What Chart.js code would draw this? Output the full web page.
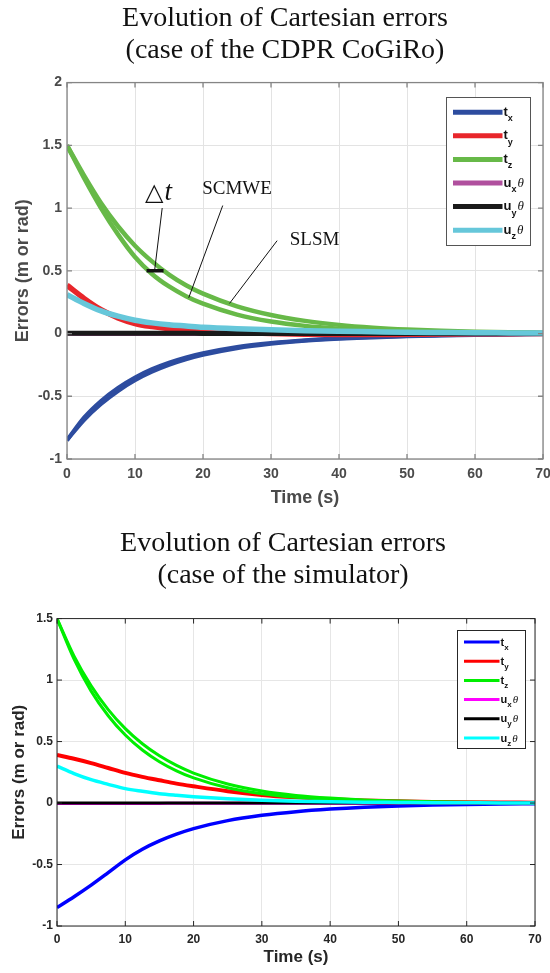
<!DOCTYPE html>
<html>
<head>
<meta charset="utf-8">
<script src="https://cdn.jsdelivr.net/npm/chart.js@4.4.1/dist/chart.umd.min.js"></script>
<style>
html, body { margin: 0; padding: 0; background: #fff; width: 550px; height: 973px; overflow: hidden; }
canvas { position: absolute; left: 0; }
#cogiro { top: 0; }
#simu { top: 515px; }
</style>
</head>
<body>
<canvas id="cogiro" width="550" height="515"></canvas>
<canvas id="simu" width="550" height="458"></canvas>
<script>
// temps commun (s)
const time = [0, 2.5, 5, 7.5, 10, 12.5, 15, 17.5, 20, 25, 30, 35, 40, 45, 50, 55, 60, 65, 70];

// --- CoGiRo (deux courbes par composante : SCMWE / SLSM)
const txScmwe = [-0.85, -0.69, -0.562, -0.458, -0.373, -0.305, -0.25, -0.206, -0.17, -0.117, -0.082, -0.058, -0.042, -0.031, -0.022, -0.016, -0.011, -0.008, -0.005];
const txSlsm  = [-0.85, -0.67, -0.537, -0.433, -0.35, -0.284, -0.232, -0.19, -0.157, -0.107, -0.075, -0.053, -0.038, -0.028, -0.02, -0.014, -0.01, -0.007, -0.004];
const tyReal  = [0.385, 0.28, 0.19, 0.125, 0.08, 0.055, 0.038, 0.027, 0.019, 0.008, 0.0, -0.006, -0.008, -0.008, -0.006, -0.004, -0.002, -0.001, 0];
const tzScmwe = [1.5, 1.24, 1.0, 0.79, 0.61, 0.475, 0.375, 0.298, 0.238, 0.151, 0.096, 0.061, 0.039, 0.025, 0.016, 0.01, 0.007, 0.005, 0.003];
const tzSlsm  = [1.5, 1.26, 1.04, 0.855, 0.70, 0.575, 0.47, 0.385, 0.318, 0.217, 0.148, 0.101, 0.069, 0.047, 0.032, 0.022, 0.015, 0.01, 0.007];
const uxReal  = [0, -0.003, -0.004, -0.004, -0.004, -0.004, -0.003, -0.003, -0.003, -0.002, -0.002, -0.002, -0.001, -0.001, -0.001, -0.001, 0, 0, 0];
const uyReal  = [0.003, 0.003, 0.003, 0.002, 0.002, 0.002, 0.002, 0.002, 0.001, 0.001, 0.001, 0.001, 0.001, 0, 0, 0, 0, 0, 0];
const uzReal  = [0.31, 0.24, 0.18, 0.138, 0.106, 0.085, 0.07, 0.06, 0.05, 0.038, 0.03, 0.023, 0.018, 0.014, 0.01, 0.008, 0.006, 0.005, 0.004];

// --- simulateur
const txSim  = [-0.85, -0.762, -0.668, -0.566, -0.462, -0.376, -0.308, -0.253, -0.208, -0.143, -0.10, -0.07, -0.049, -0.034, -0.024, -0.017, -0.012, -0.008, -0.006];
const tySim  = [0.39, 0.36, 0.325, 0.285, 0.245, 0.213, 0.185, 0.158, 0.136, 0.096, 0.066, 0.046, 0.031, 0.021, 0.014, 0.009, 0.006, 0.004, 0.003];
const tzSimA = [1.5, 1.17, 0.91, 0.71, 0.553, 0.431, 0.336, 0.262, 0.204, 0.124, 0.075, 0.046, 0.028, 0.017, 0.01, 0.006, 0.004, 0.002, 0.001];
const tzSimB = [1.5, 1.195, 0.953, 0.76, 0.605, 0.482, 0.384, 0.306, 0.244, 0.155, 0.098, 0.062, 0.04, 0.025, 0.016, 0.01, 0.006, 0.004, 0.003];
const uxSim  = [-0.003, -0.003, -0.003, -0.003, -0.003, -0.003, -0.003, -0.002, -0.002, -0.002, -0.002, -0.001, -0.001, -0.001, -0.001, 0, 0, 0, 0];
const uySim  = [0, 0, 0, 0, 0, 0, 0, 0, 0, 0, 0, 0, 0, 0, 0, 0, 0, 0, 0];
const uzSim  = [0.30, 0.24, 0.19, 0.152, 0.117, 0.095, 0.076, 0.063, 0.052, 0.035, 0.023, 0.015, 0.01, 0.007, 0.005, 0.003, 0.002, 0.001, 0.001];

// ticks
const xTicks = [0, 10, 20, 30, 40, 50, 60, 70];
const yStep = 0.5;

// legende
const legendBase = ['t', 't', 't', 'u', 'u', 'u'];
const legendSub = ['x', 'y', 'z', 'x', 'y', 'z'];
const legendSuffix = ['', '', '', 'θ', 'θ', 'θ'];
const colorsReal = ['#2d4c9f', '#e8262b', '#67b948', '#b0509e', '#1a1a1a', '#66c7da'];
const colorsSim = ['#0000ff', '#ff0000', '#00ee00', '#ff00ff', '#000000', '#00ffff'];

// annotations (graphe CoGiRo)
const annotText = ['SCMWE', 'SLSM'];
const annotX = [25.0, 36.4];
const annotY = [1.15, 0.745];
const deltaLabelX = 13.9, deltaLabelY = 1.12;
const deltaMarkX = [11.7, 14.2], deltaMarkY = [0.5, 0.5];
const leaderDeltaX = [14.0, 12.9], leaderDeltaY = [1.0, 0.51];
const leaderScmweX = [22.9, 17.9], leaderScmweY = [1.02, 0.285];
const leaderSlsmX = [30.9, 23.9], leaderSlsmY = [0.74, 0.24];

function pts(xs, ys) { return xs.map((x, i) => ({x: x, y: ys[i]})); }

function curve(label, ys, color, width, order) {
    return {
        label: label,
        data: pts(time, ys),
        borderColor: color,
        borderWidth: width,
        pointRadius: 0,
        fill: false,
        cubicInterpolationMode: 'monotone',
        order: order
    };
}

function segment(xs, ys, width) {
    return {data: pts(xs, ys), borderColor: '#111', borderWidth: width, pointRadius: 0, fill: false, tension: 0, order: -1};
}

// cadre + petits ticks vers l'interieur (style matlab)
const framePlugin = {
    id: 'frame',
    afterDatasetsDraw(chart, args, opts) {
        const {ctx, chartArea: a, scales} = chart;
        ctx.save();
        ctx.strokeStyle = opts.color;
        ctx.lineWidth = opts.width;
        ctx.beginPath();
        scales.x.ticks.forEach(t => {
            const px = scales.x.getPixelForValue(t.value);
            ctx.moveTo(px, a.bottom); ctx.lineTo(px, a.bottom - opts.tick);
            ctx.moveTo(px, a.top); ctx.lineTo(px, a.top + opts.tick);
        });
        scales.y.ticks.forEach(t => {
            const py = scales.y.getPixelForValue(t.value);
            ctx.moveTo(a.left, py); ctx.lineTo(a.left + opts.tick, py);
            ctx.moveTo(a.right, py); ctx.lineTo(a.right - opts.tick, py);
        });
        ctx.stroke();
        ctx.strokeRect(a.left, a.top, a.right - a.left, a.bottom - a.top);
        ctx.restore();
    }
};

const legendPlugin = {
    id: 'boxLegend',
    afterDraw(chart, args, o) {
        const {ctx, chartArea: a} = chart;
        const x0 = Math.round(a.right - o.right - o.width) + 0.5;
        const y0 = Math.round(a.top + o.top) + 0.5;
        ctx.save();
        ctx.fillStyle = '#fff';
        ctx.fillRect(x0, y0, o.width, o.height);
        ctx.strokeStyle = o.border;
        ctx.lineWidth = 1;
        ctx.strokeRect(x0, y0, o.width, o.height);
        ctx.textBaseline = 'alphabetic';
        ctx.textAlign = 'left';
        legendBase.forEach((b, i) => {
            const y = y0 + o.first + i * o.step;
            ctx.strokeStyle = o.colors[i];
            ctx.lineWidth = o.lineWidth;
            ctx.beginPath();
            ctx.moveTo(x0 + o.lineStart, y);
            ctx.lineTo(x0 + o.lineEnd, y);
            ctx.stroke();
            ctx.fillStyle = '#111';
            let x = x0 + o.lineEnd + 1;
            ctx.font = 'bold ' + o.size + 'px "Liberation Sans", Arial, sans-serif';
            ctx.fillText(b, x, y + o.baseDrop);
            x += ctx.measureText(b).width;
            ctx.font = 'bold ' + o.subSize + 'px "Liberation Sans", Arial, sans-serif';
            ctx.fillText(legendSub[i], x, y + o.subDrop);
            x += ctx.measureText(legendSub[i]).width + 1;
            if (legendSuffix[i]) {
                ctx.font = 'italic ' + o.size + 'px "Liberation Serif", serif';
                ctx.fillText(legendSuffix[i], x, y + o.baseDrop);
            }
        });
        ctx.restore();
    }
};

const notesPlugin = {
    id: 'notes',
    afterDatasetsDraw(chart) {
        const {ctx, scales: {x, y}} = chart;
        ctx.save();
        ctx.fillStyle = '#111';
        ctx.textBaseline = 'middle';
        ctx.textAlign = 'center';
        ctx.font = '19px "Liberation Serif", serif';
        annotText.forEach((t, i) => {
            ctx.fillText(t, x.getPixelForValue(annotX[i]), y.getPixelForValue(annotY[i]));
        });
        // delta t
        const cx = x.getPixelForValue(deltaLabelX), cy = y.getPixelForValue(deltaLabelY);
        ctx.textAlign = 'right';
        ctx.font = '24px "DejaVu Sans", sans-serif';
        ctx.fillText('△', cx + 2, cy + 1);
        ctx.textAlign = 'left';
        ctx.font = 'italic 27px "Liberation Serif", serif';
        ctx.fillText('t', cx + 3, cy);
        ctx.restore();
    }
};

function baseOptions(cfg) {
    return {
        responsive: false,
        animation: false,
        events: [],
        layout: {padding: {left: cfg.padLeft, right: cfg.padRight, top: 0, bottom: 0}},
        plugins: {
            legend: {display: false},
            tooltip: {enabled: false},
            title: {
                display: true,
                text: cfg.title,
                color: '#111',
                font: {family: '"Liberation Serif", "Times New Roman", serif', size: 28, weight: 'normal', lineHeight: 1.13},
                padding: {top: cfg.titleTop, bottom: cfg.titleBottom}
            },
            frame: {color: cfg.frame, width: cfg.frameWidth, tick: 5},
            boxLegend: cfg.legend
        },
        scales: {
            x: {
                type: 'linear',
                min: 0,
                max: 70,
                afterBuildTicks: s => { s.ticks = xTicks.map(v => ({value: v})); },
                afterFit: s => { s.height = cfg.xHeight; s.paddingRight = 0; s.paddingLeft = 0; },
                grid: {color: cfg.grid, drawTicks: false},
                border: {display: false},
                ticks: {color: cfg.tickColor, padding: cfg.xTickPad, maxRotation: 0,
                        font: {family: '"Liberation Sans", Arial, sans-serif', size: cfg.tickSize, weight: 'bold'}},
                title: {display: true, text: 'Time (s)', color: cfg.titleColor, padding: {top: 0, bottom: cfg.xTitlePad},
                        font: {family: '"Liberation Sans", Arial, sans-serif', size: cfg.axisTitleSize, weight: 'bold', lineHeight: 1.2}}
            },
            y: {
                type: 'linear',
                min: cfg.yMin,
                max: cfg.yMax,
                afterFit: s => { s.width = cfg.yWidth; },
                grid: {color: cfg.grid, drawTicks: false},
                border: {display: false},
                ticks: {stepSize: yStep, color: cfg.tickColor, padding: cfg.yTickPad,
                        callback: v => String(Math.round(v * 100) / 100),
                        font: {family: '"Liberation Sans", Arial, sans-serif', size: cfg.tickSize, weight: 'bold'}},
                title: {display: true, text: 'Errors (m or rad)', color: cfg.titleColor, padding: {top: cfg.yTitlePad, bottom: 0},
                        font: {family: '"Liberation Sans", Arial, sans-serif', size: cfg.axisTitleSize, weight: 'bold', lineHeight: 1.2}}
            }
        }
    };
}

// graphe du haut : CoGiRo
const cr = colorsReal;
const realSets = [
    curve('t_x SCMWE', txScmwe, cr[0], 4, 20),
    curve('t_x SLSM', txSlsm, cr[0], 4, 19),
    curve('t_y', tyReal, cr[1], 5.5, 18),
    curve('t_z SCMWE', tzScmwe, cr[2], 4.5, 17),
    curve('t_z SLSM', tzSlsm, cr[2], 4.5, 16),
    curve('u_x θ', uxReal, cr[3], 4, 15),
    curve('u_y θ', uyReal, cr[4], 5, 14),
    curve('u_z θ', uzReal, cr[5], 5.5, 13),
    segment(deltaMarkX, deltaMarkY, 3.5),
    segment(leaderDeltaX, leaderDeltaY, 1),
    segment(leaderScmweX, leaderScmweY, 1),
    segment(leaderSlsmX, leaderSlsmY, 1)
];

new Chart(document.getElementById('cogiro'), {
    type: 'line',
    data: {datasets: realSets},
    options: baseOptions({
        title: ['Evolution of Cartesian errors', '(case of the CDPR CoGiRo)'],
        titleTop: 3, titleBottom: 16.3,
        padLeft: 27, padRight: 7, xHeight: 56, yWidth: 40,
        yMin: -1, yMax: 2,
        grid: '#e3e3e3', frame: '#858585', frameWidth: 1.3,
        tickColor: '#4a4a4a', titleColor: '#4a4a4a', tickSize: 14, axisTitleSize: 18,
        xTickPad: 7, yTickPad: 5, xTitlePad: 6, yTitlePad: -15,
        legend: {right: 13, top: 14, width: 84, height: 148, first: 14.7, step: 23.6,
                 lineStart: 6.5, lineEnd: 56, lineWidth: 5, size: 13, subSize: 9,
                 baseDrop: 3.5, subDrop: 9, border: '#555', colors: colorsReal}
    }),
    plugins: [framePlugin, notesPlugin, legendPlugin]
});

// graphe du bas : simulateur
const cs = colorsSim;
const simSets = [
    curve('t_x', txSim, cs[0], 3.5, 20),
    curve('t_y', tySim, cs[1], 4, 19),
    curve('t_z A', tzSimA, cs[2], 3, 18),
    curve('t_z B', tzSimB, cs[2], 3, 17),
    curve('u_x θ', uxSim, cs[3], 3, 16),
    curve('u_y θ', uySim, cs[4], 3, 15),
    curve('u_z θ', uzSim, cs[5], 3.5, 14)
];

new Chart(document.getElementById('simu'), {
    type: 'line',
    data: {datasets: simSets},
    options: baseOptions({
        title: ['Evolution of Cartesian errors', '(case of the simulator)'],
        titleTop: 13, titleBottom: 27.3,
        padLeft: 31, padRight: 15, xHeight: 47, yWidth: 26,
        yMin: -1, yMax: 1.5,
        grid: '#e6e6e6', frame: '#262626', frameWidth: 1,
        tickColor: '#262626', titleColor: '#262626', tickSize: 12, axisTitleSize: 17,
        xTickPad: 6, yTickPad: 4, xTitlePad: 5, yTitlePad: -21.4,
        legend: {right: 10.5, top: 11, width: 68, height: 118, first: 11.5, step: 19.2,
                 lineStart: 6.5, lineEnd: 42, lineWidth: 3, size: 11, subSize: 8,
                 baseDrop: 3.5, subDrop: 7.5, border: '#262626', colors: colorsSim}
    }),
    plugins: [framePlugin, legendPlugin]
});
</script>
</body>
</html>
